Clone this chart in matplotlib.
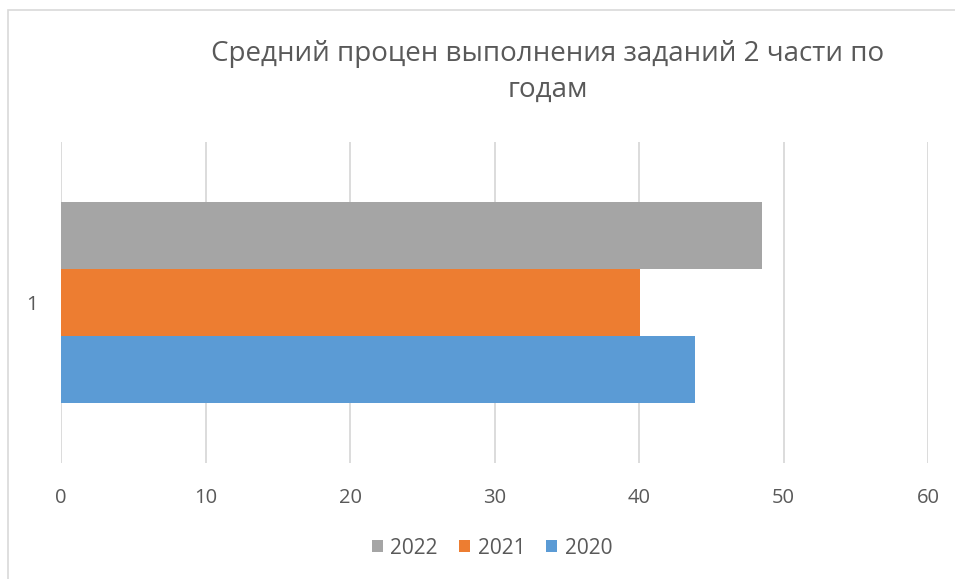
import numpy as np
import matplotlib
matplotlib.use('Agg')
import matplotlib.pyplot as plt
from matplotlib.patches import Rectangle

plt.rcParams['font.family'] = ['Open Sans', 'DejaVu Sans']

categories = ['1']
years = ['2020', '2021', '2022']
values = [43.9, 40.1, 48.5]
colors = ['#5b9bd5', '#ed7d31', '#a5a5a5']
title = 'Средний процен выполнения заданий 2 части по\nгодам'

fig = plt.figure(figsize=(9.55, 5.79), dpi=100)
ax = fig.add_axes([61 / 955, 1 - 463 / 579, 867 / 955, 321 / 579])

# bars stacked around the single category, 2020 at the bottom
offsets = [-1, 0, 1]
for yr, val, col, off in zip(years, values, colors, offsets):
    ax.barh(0 + off, val, height=1.0, color=col, label=yr, zorder=3)

ax.set_xlim(0, 60)
ax.set_ylim(-2.395, 2.395)
ax.set_xticks(np.arange(0, 61, 10))
ax.set_yticks([0])
ax.set_yticklabels(categories)
ax.grid(axis='x', color='#d9d9d9', linewidth=1.3, zorder=0)
for s in ax.spines.values():
    s.set_visible(False)
ax.tick_params(length=0, labelsize=14.5, labelcolor='#595959')
ax.tick_params(axis='x', pad=18)
ax.tick_params(axis='y', pad=17)

fig.text(548 / 955, 1 - 72 / 579, title, ha='center', va='center',
         fontsize=20, color='#595959', linespacing=1.4)

handles, labels = ax.get_legend_handles_labels()
fig.legend(handles[::-1], labels[::-1], loc='center', ncol=3,
           bbox_to_anchor=(492 / 955, 1 - 548 / 579), frameon=False,
           fontsize=15, labelcolor='#595959', handlelength=0.55,
           handleheight=0.55, handletextpad=0.35, columnspacing=1.0)

# chart area border (only top/left visible in the crop)
fig.patches.append(Rectangle((8 / 955, -0.1), 1.2, 1 - 10 / 579 + 0.1,
                             transform=fig.transFigure, fill=False,
                             edgecolor='#d9d9d9', linewidth=1.2))

fig.savefig('out.png', dpi=100)
